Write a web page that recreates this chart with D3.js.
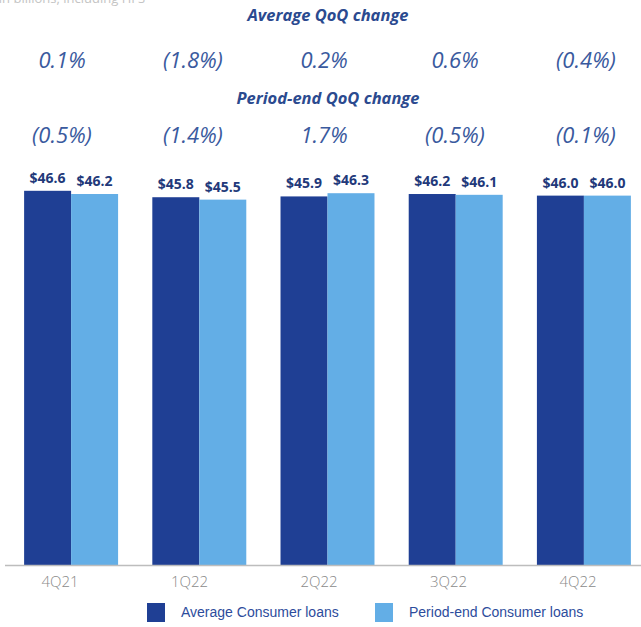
<!DOCTYPE html>
<html>
<head>
<meta charset="utf-8">
<script src="https://cdn.jsdelivr.net/npm/d3@7"></script>
<style>
  html, body { margin: 0; padding: 0; background: #ffffff; }
  svg { display: block; }
</style>
</head>
<body>
<svg id="chart" width="641" height="627"></svg>
<script>
// Consumer loans, $ in billions
const quarters = ["4Q21", "1Q22", "2Q22", "3Q22", "4Q22"];
const averageLoans = [46.6, 45.8, 45.9, 46.2, 46.0];
const periodEndLoans = [46.2, 45.5, 46.3, 46.1, 46.0];
const averageQoQ = ["0.1%", "(1.8%)", "0.2%", "0.6%", "(0.4%)"];
const periodEndQoQ = ["(0.5%)", "(1.4%)", "1.7%", "(0.5%)", "(0.1%)"];
const seriesNames = ["Average Consumer loans", "Period-end Consumer loans"];

const colors = ["#1f3f94", "#63aee6"];
const navy = "#22397a";
const pctColor = "#3a5a9e";

const svg = d3.select("#chart");
const W = 641;

// Scales
const x0 = d3.scaleBand().domain(quarters).range([7, 648])
  .paddingInner(0.267).paddingOuter(0.1335);
const x1 = d3.scaleBand().domain([0, 1]).range([0, x0.bandwidth()]);
const y = d3.scaleLinear().domain([0, 50]).range([565, 163.5]);

// Unit note along the top edge
svg.append("text")
  .attr("x", -12).attr("y", 3)
  .attr("font-family", "'Open Sans', sans-serif")
  .attr("font-size", 13)
  .attr("fill", "#c4c4c4")
  .text("$ in billions, including HFS");

// QoQ change rows
const pctX = d3.scalePoint().domain(quarters).range([62, 586]);

function headline(text, yPos) {
  svg.append("text")
    .attr("x", 328).attr("y", yPos)
    .attr("text-anchor", "middle")
    .attr("font-family", "'Open Sans', sans-serif")
    .attr("font-style", "italic")
    .attr("font-weight", 700)
    .attr("font-size", 16.5)
    .attr("fill", "#2b4a8f")
    .text(text);
}
function pctRow(values, yPos) {
  svg.append("g").selectAll("text")
    .data(values)
    .join("text")
    .attr("x", (d, i) => pctX(quarters[i]))
    .attr("y", yPos)
    .attr("text-anchor", "middle")
    .attr("font-family", "'Open Sans', sans-serif")
    .attr("font-style", "italic")
    .attr("font-size", 22)
    .attr("fill", pctColor)
    .text(d => d);
}
headline("Average QoQ change", 21);
pctRow(averageQoQ, 68);
headline("Period-end QoQ change", 104);
pctRow(periodEndQoQ, 143);

// Bars
const rows = quarters.map((q, i) => ({ q, vals: [averageLoans[i], periodEndLoans[i]] }));
const groups = svg.append("g").selectAll("g")
  .data(rows)
  .join("g")
  .attr("transform", d => `translate(${x0(d.q)},0)`);

groups.selectAll("rect")
  .data(d => d.vals.map((v, k) => ({ v, k })))
  .join("rect")
  .attr("x", d => x1(d.k))
  .attr("width", x1.bandwidth())
  .attr("y", d => y(d.v))
  .attr("height", d => y(0) - y(d.v))
  .attr("fill", d => colors[d.k]);

groups.selectAll("text")
  .data(d => d.vals.map((v, k) => ({ v, k })))
  .join("text")
  .attr("x", d => x1(d.k) + x1.bandwidth() / 2)
  .attr("y", d => y(d.v) - 8)
  .attr("text-anchor", "middle")
  .attr("font-family", "'Open Sans', sans-serif")
  .attr("font-weight", 700)
  .attr("font-size", 14)
  .attr("fill", navy)
  .text(d => "$" + d.v.toFixed(1));

// Baseline
svg.append("line")
  .attr("x1", 5).attr("x2", W)
  .attr("y1", y(0) + 0.5).attr("y2", y(0) + 0.5)
  .attr("stroke", "#bdbdbd").attr("stroke-width", 1.5);

// Category labels
const labelX = d3.scalePoint().domain(quarters).range([60, 578]);
svg.append("g").selectAll("text")
  .data(quarters)
  .join("text")
  .attr("x", d => labelX(d))
  .attr("y", 587)
  .attr("text-anchor", "middle")
  .attr("font-family", "'Open Sans', sans-serif")
  .attr("font-weight", 300)
  .attr("font-size", 15)
  .attr("fill", "#8a8a8a")
  .text(d => d);

// Legend
const legendPos = [147, 375];
const legend = svg.append("g").selectAll("g")
  .data(seriesNames)
  .join("g")
  .attr("transform", (d, i) => `translate(${legendPos[i]},603)`);
legend.append("rect")
  .attr("width", 18).attr("height", 19)
  .attr("fill", (d, i) => colors[i]);
legend.append("text")
  .attr("x", 34).attr("y", 14)
  .attr("font-family", "'Liberation Sans', Arial, sans-serif")
  .attr("font-size", 14)
  .attr("fill", "#2d4c9c")
  .text(d => d);
</script>
</body>
</html>
